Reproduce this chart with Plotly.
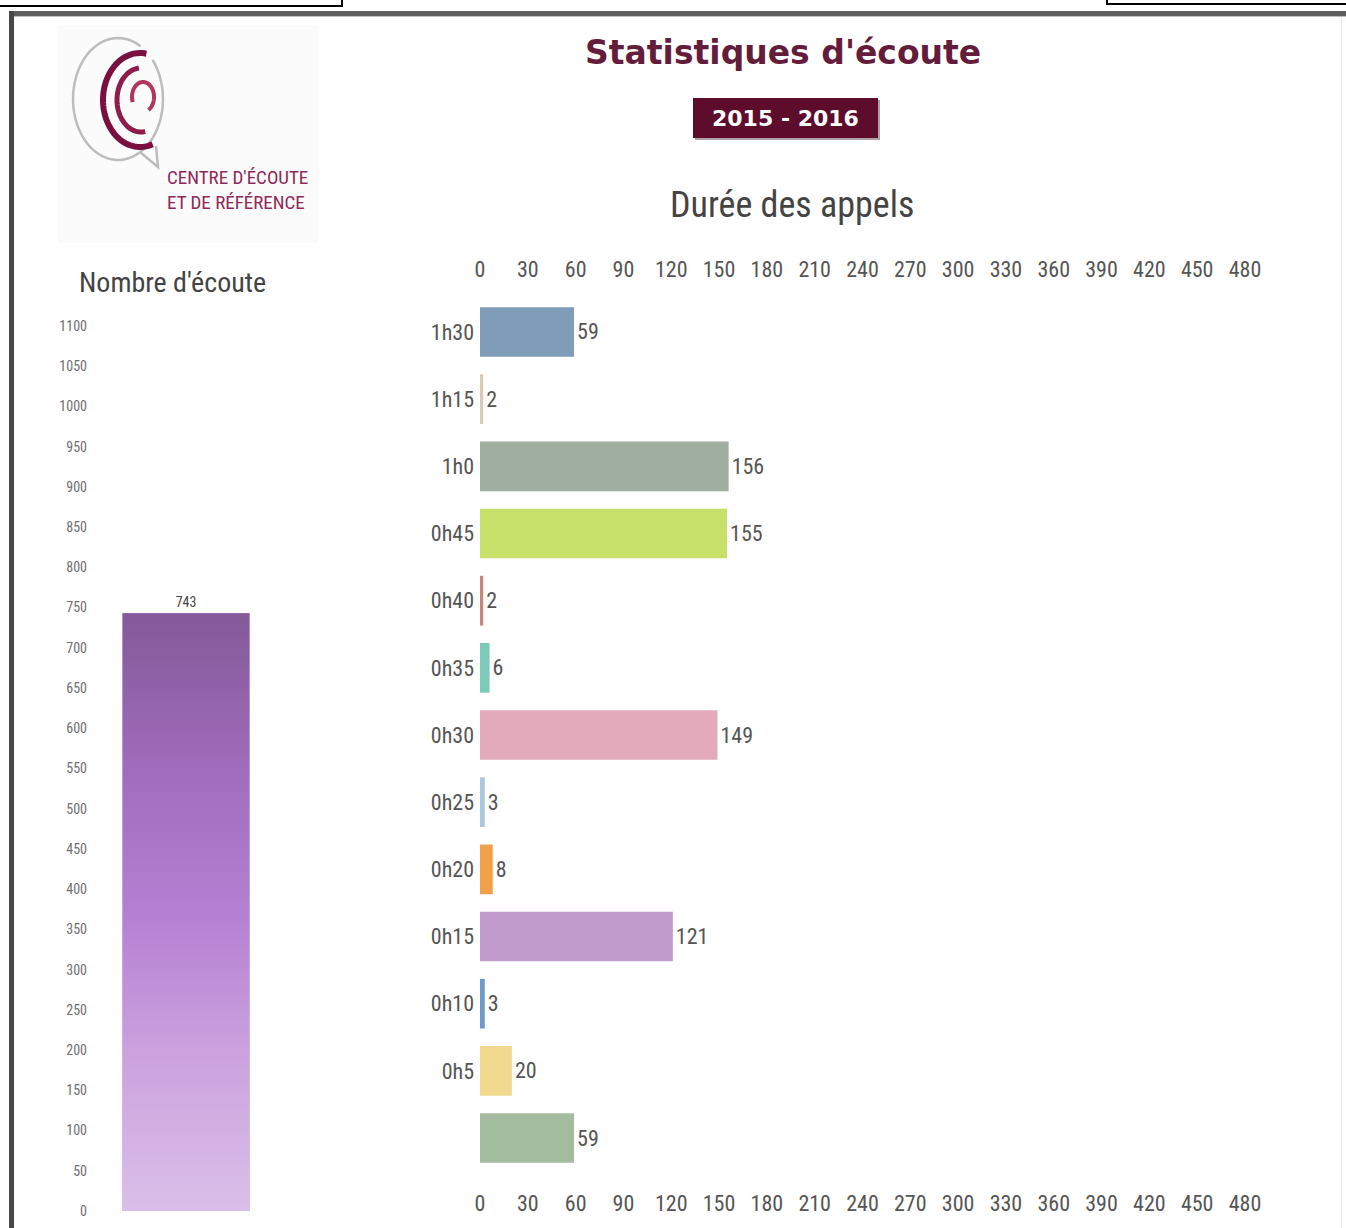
import numpy as np
import plotly.graph_objects as go

W, H = 1346, 1228

# ---- data -------------------------------------------------------------
ecoute_label = ["Total"]
ecoute_value = [743]
ecoute_ticks = list(range(0, 1101, 50))

durees = ["1h30", "1h15", "1h0", "0h45", "0h40", "0h35", "0h30",
          "0h25", "0h20", "0h15", "0h10", "0h5", " "]
appels = [59, 2, 156, 155, 2, 6, 149, 3, 8, 121, 3, 20, 59]
couleurs = ["#7f9db8", "#d9cbb6", "#9fae9e", "#c6e06a", "#c9857a", "#7ccab9",
            "#e3aabb", "#a9c9dc", "#f2a04a", "#c19bcb", "#6a9bc9", "#f1d98f",
            "#a4bc9e"]
duree_ticks = list(range(0, 481, 30))

FONT = "Roboto Condensed, Liberation Sans Narrow, Arial Narrow, Roboto, sans-serif"
GREY = "#555555"


def px(x):
    return x / W


def py(y):
    return 1 - y / H


fig = go.Figure()

# ---- left chart: total listening count --------------------------------
bar_w = 0.668
fig.add_trace(go.Bar(
    x=[0], y=ecoute_value, width=bar_w,
    marker=dict(color="#b07fcf", line=dict(width=0)),
    text=[str(v) for v in ecoute_value], textposition="outside",
    textfont=dict(family=FONT, size=14, color="#444444"),
    cliponaxis=False, xaxis="x", yaxis="y", hoverinfo="skip", showlegend=False,
))
v = ecoute_value[0]
fig.add_trace(go.Scatter(
    x=[-bar_w / 2, bar_w / 2, bar_w / 2, -bar_w / 2, -bar_w / 2],
    y=[0, 0, v, v, 0],
    mode="lines", line=dict(width=0), fill="toself",
    fillgradient=dict(type="vertical", colorscale=[
        [0.0, "#dabfe9"], [0.25, "#cca3de"], [0.5, "#b57fd3"],
        [0.75, "#9f6bba"], [1.0, "#835998"]]),
    xaxis="x", yaxis="y", hoverinfo="skip", showlegend=False,
))

# ---- right chart: call durations ---------------------------------------
fig.add_trace(go.Bar(
    x=appels, y=durees, orientation="h",
    marker=dict(color=couleurs, line=dict(width=0)),
    text=[str(a) for a in appels], textposition="outside",
    textfont=dict(family=FONT, size=22, color=GREY),
    cliponaxis=False, xaxis="x2", yaxis="y2", hoverinfo="skip", showlegend=False,
))
# empty trace so the bottom duration axis is drawn too
fig.add_trace(go.Scatter(x=[], y=[], xaxis="x3", yaxis="y2", showlegend=False,
                         hoverinfo="skip"))

# pixel-space overlay for the frame, logo and headings
fig.add_trace(go.Scatter(x=[], y=[], xaxis="x4", yaxis="y4", showlegend=False,
                         hoverinfo="skip"))

tick_font_small = dict(family=FONT, size=14, color="#707070")
tick_font = dict(family=FONT, size=22, color=GREY)

fig.update_layout(
    width=W, height=H,
    margin=dict(l=0, r=0, t=0, b=0, autoexpand=False),
    paper_bgcolor="white", plot_bgcolor="rgba(0,0,0,0)",
    bargap=0.26,
    xaxis=dict(domain=[px(91), px(281)], range=[-0.5, 0.5], anchor="y",
               showticklabels=False, showgrid=False, zeroline=False,
               automargin=False, fixedrange=True),
    yaxis=dict(domain=[py(1211), py(326)], range=[0, 1100], anchor="x",
               tickvals=ecoute_ticks, tickfont=tick_font_small,
               showgrid=False, zeroline=False, ticks="", ticklabelstandoff=3,
               automargin=False, fixedrange=True),
    xaxis2=dict(domain=[px(480), px(1245)], range=[0, 480], anchor="y2",
                side="top", tickvals=duree_ticks, tickfont=tick_font,
                ticks="", ticklabelstandoff=16, automargin=False,
                showgrid=False, zeroline=False, fixedrange=True),
    xaxis3=dict(domain=[px(480), px(1245)], range=[0, 480], anchor="y2",
                overlaying="x2", side="bottom", tickvals=duree_ticks,
                tickfont=tick_font, ticks="", ticklabelstandoff=16,
                automargin=False,
                showgrid=False, zeroline=False, fixedrange=True),
    yaxis2=dict(domain=[py(1171.6), py(298.4)], anchor="x2",
                type="category", categoryorder="array", categoryarray=durees,
                autorange="reversed", tickfont=tick_font, ticks="",
                ticklabelstandoff=5, showgrid=False, zeroline=False,
                automargin=False, fixedrange=True),
    xaxis4=dict(domain=[0, 1], range=[0, W], anchor="y4", visible=False,
                automargin=False, fixedrange=True),
    yaxis4=dict(domain=[0, 1], range=[H, 0], anchor="x4", visible=False,
                automargin=False, fixedrange=True),
)

shapes = []
ann = []


def rect(x0, y0, x1, y1, **kw):
    d = dict(type="rect", xref="x4", yref="y4", x0=x0, y0=y0, x1=x1, y1=y1)
    d.update(kw)
    shapes.append(d)


def poly(points, color, width, closed=False):
    path = "M " + " L ".join(f"{x:.2f},{y:.2f}" for x, y in points)
    if closed:
        path += " Z"
    shapes.append(dict(type="path", xref="x4", yref="y4", path=path,
                       line=dict(color=color, width=width)))


def arc(cx, cy, rx, ry, a0, a1, n=60):
    t = np.radians(np.linspace(a0, a1, n))
    return list(zip(cx + rx * np.cos(t), cy + ry * np.sin(t)))


# page frame
rect(-2, -6, 342, 6, fillcolor="white", line=dict(color="black", width=2))
rect(1107, -6, 1348, 4, fillcolor="white", line=dict(color="black", width=2))
rect(9, 11, W + 2, 16, fillcolor="#5e5e5e", line=dict(width=0))
rect(9, 16, W + 2, 17, fillcolor="#bdbdbd", line=dict(width=0))
rect(9, 11, 14, H + 2, fillcolor="#474747", line=dict(width=0))
rect(1341, 17, 1342, H + 2, fillcolor="#e8e8e8", line=dict(width=0))

# logo
rect(58, 25, 318, 243, fillcolor="#fbfbfc", line=dict(width=0))
poly(arc(118, 99, 45, 61, -40, 300), "#bdbdbd", 2.5)
poly([(140, 152), (158, 167), (156, 146)], "#bdbdbd", 2.5)
poly(arc(140, 100, 37, 47, -80, -290), "#7a1040", 6)
poly(arc(141, 100, 24, 32, -95, -280), "#8f1c4b", 5)
poly(arc(143, 97, 11, 15, -200, 60), "#b0365f", 4)
ann.append(dict(x=165, y=177, text="CENTRE D'ÉCOUTE", xanchor="left",
                font=dict(family=FONT, size=19, color="#8e2a57")))
ann.append(dict(x=165, y=202, text="ET DE RÉFÉRENCE", xanchor="left",
                font=dict(family=FONT, size=19, color="#8e2a57")))

# headings
ann.append(dict(x=783, y=52, text="<b>Statistiques d'écoute</b>",
                font=dict(family="DejaVu Sans", size=33, color="#641c3b")))
rect(695, 100, 880, 140, fillcolor="#b0a0a6", line=dict(width=0))
rect(693, 98, 878, 138, fillcolor="#5d0c2c", line=dict(width=0))
ann.append(dict(x=785.5, y=118, text="<b>2015 - 2016</b>",
                font=dict(family="DejaVu Sans", size=22, color="white")))
ann.append(dict(x=792, y=205, text="Durée des appels",
                font=dict(family=FONT, size=36, color="#444444")))
ann.append(dict(x=172, y=282, text="Nombre d'écoute",
                font=dict(family=FONT, size=28, color="#444444")))

for a in ann:
    a.update(xref="x4", yref="y4", showarrow=False, yanchor="middle")
    a.setdefault("xanchor", "center")

fig.update_layout(shapes=shapes, annotations=ann)
fig.write_html("out.html")
